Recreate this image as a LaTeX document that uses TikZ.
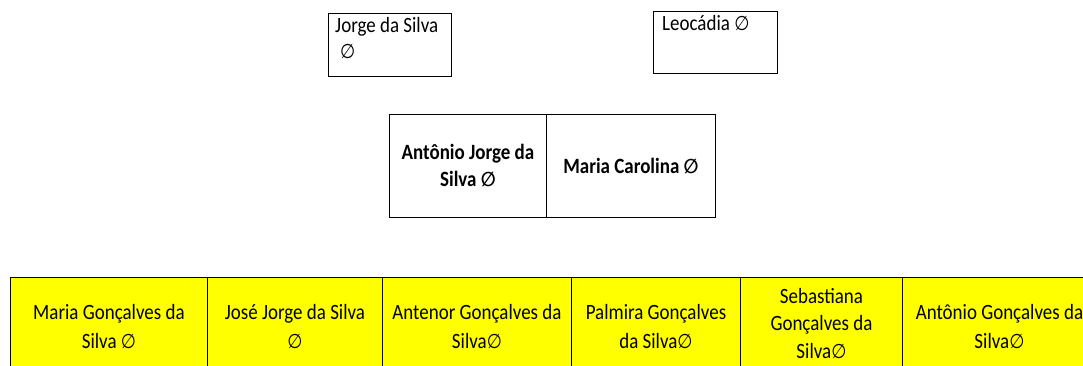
\documentclass[tikz,border=0pt]{standalone}
\usepackage{fontspec}
\setmainfont[FakeStretch=0.87]{Carlito}
\newfontfamily\symfont[FakeStretch=0.87]{DejaVu Sans}
\newcommand{\es}{{\symfont\fontsize{20}{29}\selectfont ∅}}
\definecolor{cellyellow}{RGB}{255,255,0}
\tikzset{
  every node/.style={font=\fontsize{21.8}{29}\selectfont},
  box/.style={draw=black, line width=0.9pt, inner sep=0pt, anchor=north west},
  cell/.style={draw=black, line width=0.9pt, fill=cellyellow, inner sep=0pt, anchor=north west, align=center},
  label/.style={inner sep=0pt, align=left, anchor=north west}
}
\begin{document}
\begin{tikzpicture}[x=1pt,y=-1pt]
\useasboundingbox (0,0) rectangle (1083,365);
\clip (0,0) rectangle (1083,365);
% grandparents
\node[box, minimum width=123pt, minimum height=63pt] (jorge) at (328,13) {};
\node[label] (jorget) at ([xshift=7pt,yshift=-4pt]jorge.north west) {Jorge da Silva\\[-3pt]\hspace*{5pt}\es};
\node[box, minimum width=124pt, minimum height=62pt] (leo) at (653,11) {};
\node[label] (leot) at ([xshift=9pt,yshift=-4pt]leo.north west) {Leocádia \es};
% parents
\node[box, minimum width=157pt, minimum height=103pt, align=center, font=\fontsize{21.8}{27}\selectfont\bfseries] (antonio) at (389,114) {Antônio Jorge da\\Silva \es};
\node[box, minimum width=169pt, minimum height=103pt, align=center, font=\fontsize{21.8}{27}\selectfont\bfseries] (carolina) at (546,114) {Maria Carolina \es};
% children
\node[cell, minimum width=197pt, minimum height=98pt] (c1) at (10,277) {Maria Gonçalves da\\Silva \es};
\node[cell, minimum width=175pt, minimum height=98pt] (c2) at (207,277) {José Jorge da Silva\\\es};
\node[cell, minimum width=189pt, minimum height=98pt] (c3) at (382,277) {Antenor Gonçalves da\\Silva\es};
\node[cell, minimum width=169pt, minimum height=98pt] (c4) at (571,277) {Palmira Gonçalves\\da Silva\es};
\node[cell, minimum width=162pt, minimum height=92pt, font=\fontsize{21.8}{27.5}\selectfont] (c5) at (740,277) {Sebastiana\\Gonçalves da\\Silva\es};
\node[cell, minimum width=194pt, minimum height=98pt] (c6) at (902,277) {Antônio Gonçalves da\\Silva\es};
\end{tikzpicture}
\end{document}
